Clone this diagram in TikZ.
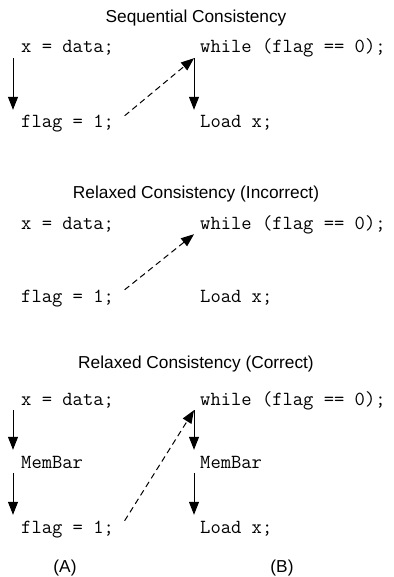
\documentclass[tikz,border=0pt]{standalone}
\usepackage{fontspec}
\setmainfont{Liberation Sans}
\usetikzlibrary{arrows.meta}
\begin{document}
\begin{tikzpicture}[x=1pt,y=-1pt,
  code/.style={font=\ttfamily\fontsize{20}{22}\selectfont, anchor=base west, inner sep=0pt, text height=12pt, text depth=5pt},
  ttl/.style={font=\fontsize{17.3}{20}\selectfont, anchor=base, inner sep=0pt},
  seqarrow/.style={line width=1pt, -{Triangle[length=13pt,width=10pt]}, shorten >=6pt},
  dasharrow/.style={line width=1pt, dash pattern=on 6pt off 4pt, -{Triangle[length=13pt,width=10pt]}}]
\useasboundingbox (0,0) rectangle (393,577);

% Section 1
\node[ttl] (t1) at (196,23) {Sequential Consistency};
\node[code] (a11) at (21,53) {x = data;};
\node[code] (a12) at (21,128) {flag = 1;};
\node[code] (b11) at (200,53) {while (flag == 0);};
\node[code] (b12) at (200,128) {Load x;};
\draw[seqarrow] ([xshift=-8pt]a11.south west) -- ([xshift=-8pt]a12.north west);
\draw[seqarrow] ([xshift=-6pt]b11.south west) -- ([xshift=-6pt]b12.north west);
\draw[dasharrow] ([xshift=10.5pt]a12.north east) -- ([xshift=-6pt]b11.south west);

% Section 2
\node[ttl] (t2) at (196,199) {Relaxed Consistency (Incorrect)};
\node[code] (a21) at (21,229) {x = data;};
\node[code] (a22) at (21,302) {flag = 1;};
\node[code] (b21) at (200,229) {while (flag == 0);};
\node[code] (b22) at (200,302) {Load x;};
\draw[dasharrow] ([xshift=10.5pt]a22.north east) -- ([xshift=-6pt]b21.south west);

% Section 3
\node[ttl] (t3) at (196,368) {Relaxed Consistency (Correct)};
\node[code] (a31) at (21,405) {x = data;};
\node[code] (a32) at (21,468) {MemBar};
\node[code] (a33) at (21,533) {flag = 1;};
\node[code] (b31) at (200,405) {while (flag == 0);};
\node[code] (b32) at (200,468) {MemBar};
\node[code] (b33) at (200,533) {Load x;};
\draw[seqarrow] ([xshift=-8pt]a31.south west) -- ([xshift=-8pt]a32.north west);
\draw[seqarrow] ([xshift=-8pt]a32.south west) -- ([xshift=-8pt]a33.north west);
\draw[seqarrow] ([xshift=-6pt]b31.south west) -- ([xshift=-6pt]b32.north west);
\draw[seqarrow] ([xshift=-6pt]b32.south west) -- ([xshift=-6pt]b33.north west);
\draw[dasharrow] ([xshift=10.5pt]a33.north east) -- ([xshift=-6pt]b31.south west);

\node[ttl] (la) at (65,572) {(A)};
\node[ttl] (lb) at (282,572) {(B)};
\end{tikzpicture}
\end{document}
